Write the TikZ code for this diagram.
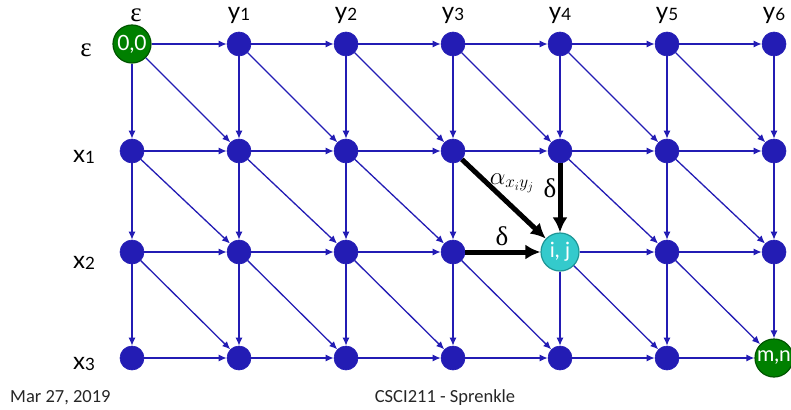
\documentclass[tikz,border=0pt]{standalone}
\usepackage{fontspec}
\setmainfont{Lato}
\newfontfamily\footfont{Carlito}
\newfontfamily\grk{Liberation Serif}
\usetikzlibrary{arrows.meta}
\definecolor{gblue}{RGB}{35,28,180}
\definecolor{ggreen}{RGB}{0,128,0}
\definecolor{ggreenb}{RGB}{0,85,0}
\definecolor{gcyan}{RGB}{52,202,204}
\definecolor{gcyanb}{RGB}{30,150,150}
\tikzset{
  dot/.style={circle,fill=gblue,draw=gblue,line width=0.6pt,minimum size=24pt,inner sep=0pt},
  bignode/.style={circle,minimum size=38pt,inner sep=0pt,text=white,line width=1.2pt,font=\fontsize{21}{21}\selectfont},
  edge/.style={draw=gblue,line width=1.3pt,-{Latex[length=8pt,width=7pt]}},
  thick edge/.style={draw=black,line width=5pt,-{Latex[length=15pt,width=15pt]}},
  lbl/.style={font=\fontsize{24}{24}\selectfont,inner sep=0pt},
  glbl/.style={font=\fontsize{27}{27}\selectfont\grk,inner sep=0pt},
  foot/.style={font=\fontsize{18.5}{18.5}\selectfont\footfont,inner sep=0pt,text=black!85}
}
\newcommand{\lab}[2]{#1\raisebox{-1.5pt}{\fontsize{17}{17}\selectfont #2}}
\begin{document}
\begin{tikzpicture}[x=1pt,y=-1pt]
\useasboundingbox (0,0) rectangle (791,409);
% grid nodes
\foreach \c/\x in {0/132,1/239,2/346,3/453,4/560,5/667,6/774}{
  \foreach \r/\y in {0/44,1/151,2/252,3/358}{
    \node[dot] (n\r\c) at (\x,\y) {};
  }
}
\node[bignode,fill=ggreen,draw=ggreenb] (n00) at (132,44) {0,0};
\node[bignode,fill=gcyan,draw=gcyanb] (n24) at (560,252) {i, j};
\node[bignode,fill=ggreen,draw=ggreenb] (n36) at (774,358) {m,n};
% horizontal edges
\foreach \r in {0,...,3}{
  \foreach \c [evaluate=\c as \cn using {int(\c+1)}] in {0,...,5}{
    \ifnum\r\c=23 \else \draw[edge] (n\r\c) -- (n\r\cn);\fi
  }
}
% vertical edges
\foreach \r [evaluate=\r as \rn using {int(\r+1)}] in {0,...,2}{
  \foreach \c in {0,...,6}{
    \ifnum\r\c=14 \else \draw[edge] (n\r\c) -- (n\rn\c);\fi
  }
}
% diagonal edges
\foreach \r [evaluate=\r as \rn using {int(\r+1)}] in {0,...,2}{
  \foreach \c [evaluate=\c as \cn using {int(\c+1)}] in {0,...,5}{
    \ifnum\r\c=13 \else \draw[edge] (n\r\c) -- (n\rn\cn);\fi
  }
}
% highlighted edges
\draw[thick edge] (n13) -- (n24);
\draw[thick edge] (n14) -- (n24);
\draw[thick edge] (n23) -- (n24);
\node[inner sep=0pt,font=\fontsize{24}{24}\selectfont] (alab) at (512,183) {$\alpha_{x_i y_j}$};
\node[glbl] (dv) at (550,188) {δ};
\node[glbl] (dh) at (502,236) {δ};
% column labels
\node[glbl] (ce) at (136,15) {ε};
\node[lbl] (c1) at (239,15) {\lab{y}{1}};
\node[lbl] (c2) at (346,15) {\lab{y}{2}};
\node[lbl] (c3) at (453,15) {\lab{y}{3}};
\node[lbl] (c4) at (560,15) {\lab{y}{4}};
\node[lbl] (c5) at (667,15) {\lab{y}{5}};
\node[lbl] (c6) at (774,15) {\lab{y}{6}};
% row labels
\node[glbl] (re) at (86,50) {ε};
\node[lbl] (r1) at (84,157) {\lab{x}{1}};
\node[lbl] (r2) at (84,263) {\lab{x}{2}};
\node[lbl] (r3) at (84,364) {\lab{x}{3}};
% footer
\node[foot,anchor=base west] (date) at (10,402) {Mar 27, 2019};
\node[foot,anchor=base] (course) at (445,402) {CSCI211 - Sprenkle};
\end{tikzpicture}
\end{document}
